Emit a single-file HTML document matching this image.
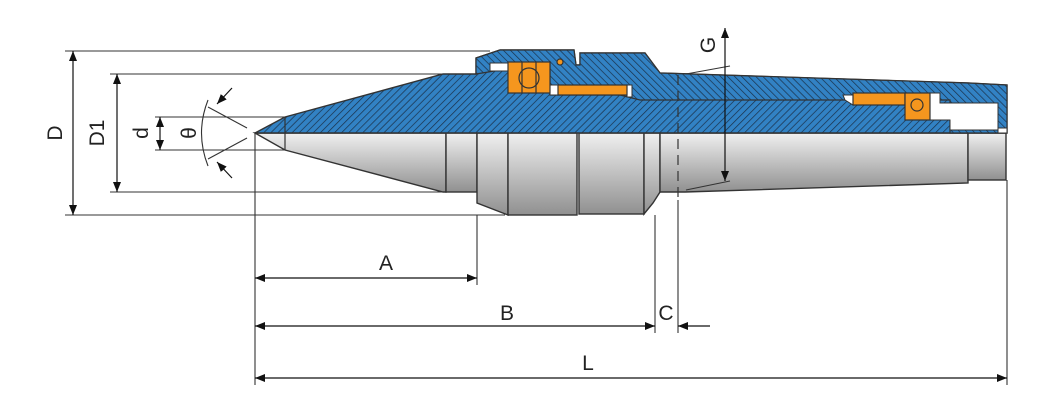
<!DOCTYPE html>
<html><head><meta charset="utf-8"><style>
html,body{margin:0;padding:0;background:#fff;}
svg{display:block;}
text{font-family:"Liberation Sans",sans-serif;font-size:21px;fill:#222;}
</style></head><body>
<svg width="1060" height="403" viewBox="0 0 1060 403" xmlns="http://www.w3.org/2000/svg">
<defs>
<pattern id="h" patternUnits="userSpaceOnUse" width="5" height="5" patternTransform="rotate(45)">
<rect width="5" height="5" fill="#3282c4"/><line x1="0" y1="0" x2="0" y2="5" stroke="#1a3048" stroke-width="1.4"/>
</pattern>
<pattern id="h2" patternUnits="userSpaceOnUse" width="5" height="5" patternTransform="rotate(-45)">
<rect width="5" height="5" fill="#3282c4"/><line x1="0" y1="0" x2="0" y2="5" stroke="#1a3048" stroke-width="1.4"/>
</pattern>
<linearGradient id="g" x1="0" y1="0" x2="0" y2="1">
<stop offset="0" stop-color="#f0f0f0"/><stop offset="1" stop-color="#909090"/>
</linearGradient>
<marker id="a" markerWidth="10" markerHeight="8" refX="10" refY="4" orient="auto-start-reverse" markerUnits="userSpaceOnUse">
<path d="M0,0 L10,4 L0,8 Z" fill="#111"/></marker>
</defs>
<g stroke="#333" stroke-width="1.4" fill="url(#g)">
<path d="M255,133 L285,150 L443,192 L446,192 L446,133 Z"/>
<rect x="446" y="133" width="31" height="59"/>
<path d="M477,133 H508 V215 L477,203 Z"/>
<rect x="508" y="133" width="69" height="82"/>
<rect x="579" y="133" width="65" height="81"/>
<path d="M644,133 H660 V192 L653,203 L644,214 Z"/>
<path d="M660,133 H968 V183 L685,192 L660,192 Z"/>
<rect x="968" y="133" width="38" height="47"/>
</g>
<!-- blue section -->
<path d="M255,133 L285,117 L443,74 L476,74 L476,58 L500,50 L574,50 L576,65 L580,65 L580,53 L645,53 L660,73 L968,83 L1007,85 L1007,133 Z" fill="url(#h)" stroke="#333" stroke-width="1.4"/>
<path d="M476,58 L500,50 L574,50 L576,65 L580,65 L580,53 L645,53 L660,73 L968,83 L1007,85 L1007,133 L950,133 L950,100 L640,100 L640,100 L620,95 L550,95 L550,62 L476,74 Z" fill="url(#h2)" stroke="#333" stroke-width="1.2"/>
<line x1="285" y1="117" x2="285" y2="150" stroke="#333" stroke-width="1.2"/>
<g fill="#fff" stroke="#333" stroke-width="1">
<rect x="490" y="63" width="18" height="8"/>
<rect x="550" y="85" width="8" height="10"/>
<rect x="627" y="85" width="5" height="12"/>
<path d="M930,93 H940 V103 H998 V130 H950 V120 H930 Z"/>
<rect x="998" y="128" width="9" height="5"/>
<path d="M843,95 H853 V105 L845,100 Z"/>
</g>
<g fill="#f5961e" stroke="#333" stroke-width="1.2">
<rect x="508" y="62" width="42" height="31"/>
<circle cx="529" cy="78" r="10" fill="none"/>
<line x1="522" y1="62" x2="522" y2="93"/><line x1="536" y1="62" x2="536" y2="93"/>
<rect x="558" y="85" width="69" height="10"/>
<circle cx="560" cy="62" r="3"/>
<rect x="853" y="93" width="52" height="12"/>
<rect x="905" y="93" width="25" height="27"/>
<circle cx="917" cy="105" r="6"/>
</g>
<line x1="678" y1="75" x2="678" y2="200" stroke="#333" stroke-width="1.2" stroke-dasharray="10,6"/>
<g stroke="#333" stroke-width="1.1" fill="none">
<line x1="65" y1="51" x2="490" y2="51"/>
<line x1="65" y1="215" x2="505" y2="215"/>
<line x1="110" y1="74" x2="443" y2="74"/>
<line x1="110" y1="192" x2="443" y2="192"/>
<line x1="155" y1="117" x2="285" y2="117"/>
<line x1="155" y1="150" x2="285" y2="150"/>
<line x1="255" y1="133" x2="255" y2="385"/>
<line x1="477" y1="215" x2="477" y2="285"/>
<line x1="655" y1="215" x2="655" y2="333"/>
<line x1="678" y1="200" x2="678" y2="333"/>
<line x1="1007" y1="180" x2="1007" y2="385"/>
<line x1="208" y1="107" x2="247" y2="128"/>
<line x1="208" y1="159" x2="247" y2="138"/>
<path d="M208,100 Q195,133 208,166"/>
<line x1="686" y1="74" x2="730" y2="66"/>
<line x1="686" y1="190" x2="730" y2="181"/>
</g>
<g stroke="#111" stroke-width="1.2" fill="none">
<line x1="73" y1="51" x2="73" y2="215" marker-start="url(#a)" marker-end="url(#a)"/>
<line x1="117" y1="74" x2="117" y2="192" marker-start="url(#a)" marker-end="url(#a)"/>
<line x1="160" y1="117" x2="160" y2="150" marker-start="url(#a)" marker-end="url(#a)"/>
<line x1="232" y1="88" x2="217" y2="104" marker-end="url(#a)"/>
<line x1="232" y1="178" x2="217" y2="162" marker-end="url(#a)"/>
<line x1="725" y1="28" x2="725" y2="181" marker-start="url(#a)" marker-end="url(#a)"/>
<line x1="255" y1="278" x2="477" y2="278" marker-start="url(#a)" marker-end="url(#a)"/>
<line x1="255" y1="326" x2="655" y2="326" marker-start="url(#a)" marker-end="url(#a)"/>
<line x1="710" y1="326" x2="678" y2="326" marker-end="url(#a)"/>
<line x1="255" y1="378" x2="1007" y2="378" marker-start="url(#a)" marker-end="url(#a)"/>
</g>
<g>
<text x="0" y="0" transform="translate(62,133) rotate(-90)" text-anchor="middle">D</text>
<text x="0" y="0" transform="translate(104,133) rotate(-90)" text-anchor="middle">D1</text>
<text x="0" y="0" transform="translate(148,133) rotate(-90)" text-anchor="middle">d</text>
<text x="0" y="0" transform="translate(196,133) rotate(-90)" text-anchor="middle">θ</text>
<text x="0" y="0" transform="translate(715,45) rotate(-90)" text-anchor="middle">G</text>
<text x="386" y="270" text-anchor="middle">A</text>
<text x="507" y="320" text-anchor="middle">B</text>
<text x="666" y="320" text-anchor="middle">C</text>
<text x="588" y="370" text-anchor="middle">L</text>
</g>
</svg>
</body></html>
